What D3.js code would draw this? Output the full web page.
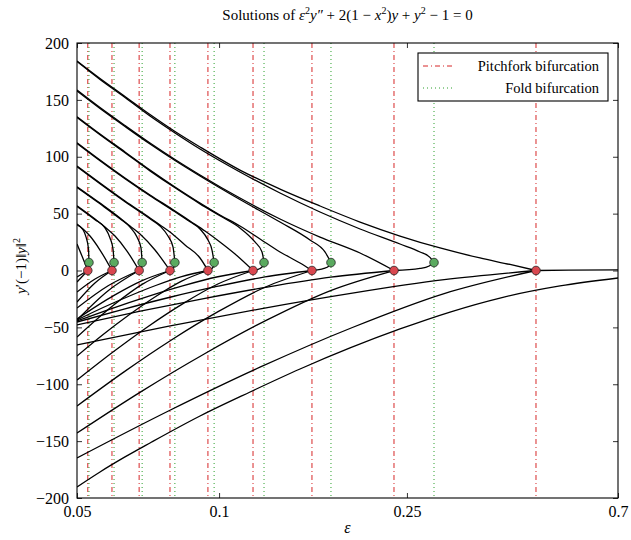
<!DOCTYPE html>
<html>
<head>
<meta charset="utf-8">
<script src="https://cdn.jsdelivr.net/npm/d3@7"></script>
<style>
body { margin: 0; background: #fff; }
svg text { font-family: "Liberation Serif", "Times New Roman", Times, serif !important; }
</style>
</head>
<body>
<div id="chart"></div>
<script>
// bifurcation points (epsilon)
var pitchforkEps = [0.4692, 0.2347, 0.1573, 0.1180, 0.0947, 0.0787, 0.0677, 0.0593, 0.0527];
var pitchforkVal = [0, 0, 0, 0, 0, 0, 0, 0, 0];
var foldEps = [0.2853, 0.1726, 0.1245, 0.0976, 0.0806, 0.0687, 0.0599, 0.0530];
var foldVal = [7, 7, 7, 7, 7, 7, 7, 7];

var xTicks = [0.05, 0.1, 0.25, 0.7];
var yTicks = [-200, -150, -100, -50, 0, 50, 100, 150, 200];

// upper branches ending at a fold point
var foldUpper = [
    [[0.05,183.7],[0.05594,167.9],[0.06319,152.1],[0.07139,135.8],[0.08065,120.9],[0.09111,106.8],[0.1107,86.6],[0.1346,68.1],[0.1636,51.4],[0.1989,36.5],[0.2417,23.3],[0.2665,16.3],[0.2797,11.5],[0.2853,7]],
    [[0.05,157.8],[0.05594,142.4],[0.06319,126.6],[0.07139,111.2],[0.08065,96.7],[0.09111,83.1],[0.1107,62.4],[0.1346,42.6],[0.1558,26.8],[0.1676,16.3],[0.1726,7]],
    [[0.05,134.5],[0.05594,119.3],[0.06319,103.5],[0.07139,87.6],[0.08065,72.7],[0.09111,58.6],[0.1004,48.1],[0.1107,37.4],[0.1191,25.1],[0.1233,16.3],[0.1245,7]],
    [[0.05,111.6],[0.05594,96.4],[0.06319,80.6],[0.07139,65.7],[0.08065,51.6],[0.08677,42.8],[0.09111,36.5],[0.09473,26.8],[0.0966,18],[0.0976,7]],
    [[0.05,91.2],[0.05594,76.2],[0.06319,60.4],[0.07139,45.5],[0.07496,39.1],[0.07794,30.3],[0.07986,20.7],[0.0806,7]],
    [[0.05,73],[0.05594,58.6],[0.06167,45.5],[0.06475,38.2],[0.067,29.4],[0.06832,19.8],[0.0687,7]],
    [[0.05,56.3],[0.05459,44.6],[0.05732,37.4],[0.05873,28.6],[0.0596,18.9],[0.0599,7]],
    [[0.05,40.2],[0.05149,35.8],[0.05224,29.6],[0.05289,18.9],[0.0530,7]]
];

// upper branches ending at a pitchfork point
var pitchUpper = [
    [[0.05,184.2],[0.05594,168.8],[0.06319,153],[0.07139,137.1],[0.08065,122.2],[0.09111,108.6],[0.1107,88.3],[0.1346,71.6],[0.1636,56.7],[0.1989,42.6],[0.2417,30.3],[0.2938,19.8],[0.3571,11],[0.4134,5.3],[0.4692,0]],
    [[0.05,158.7],[0.05594,143.3],[0.06319,127.5],[0.07139,112.1],[0.08065,97.6],[0.09111,84],[0.1107,63.7],[0.1346,45.3],[0.1636,29.4],[0.1989,15.4],[0.2347,0]],
    [[0.05,135.2],[0.05594,120],[0.06319,104.2],[0.07139,88.3],[0.08065,73.4],[0.09111,59.3],[0.1004,48.8],[0.1107,39.1],[0.1221,27.7],[0.1346,16.3],[0.1484,6.6],[0.1573,0]],
    [[0.05,112.3],[0.05594,97.1],[0.06319,81.3],[0.07139,66.4],[0.08065,52.3],[0.08677,43.5],[0.09336,34.7],[0.1004,25.1],[0.1081,14.5],[0.118,0]],
    [[0.05,91.9],[0.05594,76.9],[0.06319,61.1],[0.07139,46.2],[0.07496,40],[0.0787,33.8],[0.08468,22.4],[0.09111,11],[0.0947,0]],
    [[0.05,73.7],[0.05594,59.3],[0.06167,46.2],[0.06475,39.1],[0.06799,32.1],[0.07315,18],[0.0787,0]],
    [[0.05,57],[0.05459,45.3],[0.05732,38.2],[0.06018,30.3],[0.06381,17.1],[0.0677,0]],
    [[0.05,40.9],[0.05149,36.5],[0.05327,30.3],[0.05594,18],[0.0593,0]],
    [[0.05,23.3],[0.05123,12.7],[0.0527,0]]
];

// short arcs fold -> pitchfork
var foldArcs = [
    [[0.2347,0],[0.2665,1.8],[0.2787,4],[0.2853,7]],
    [[0.1573,0],[0.1668,1.8],[0.1709,4],[0.1726,7]],
    [[0.118,0],[0.1221,1.8],[0.1239,4],[0.1245,7]],
    [[0.0947,0],[0.0966,1.8],[0.0973,4],[0.0976,7]],
    [[0.0787,0],[0.0799,1.8],[0.0803,4],[0.0806,7]],
    [[0.0677,0],[0.0683,1.8],[0.06856,4],[0.0687,7]],
    [[0.0593,0],[0.0596,1.8],[0.0598,4],[0.0599,7]],
    [[0.0527,0],[0.05288,1.8],[0.05296,4],[0.0530,7]]
];

// branches going down-left from the pitchfork points
var lowerBranches = [
    [[0.05,-164.8],[0.0783,-123.3],[0.1224,-84.8],[0.1916,-50.1],[0.2998,-20.3],[0.4692,0]],
    [[0.05,-65.5],[0.0783,-49],[0.1224,-33.7],[0.1916,-19.9],[0.2998,-8.1],[0.4692,0]],
    [[0.05,-142.9],[0.0681,-106.9],[0.0928,-73.6],[0.1264,-43.4],[0.1723,-17.6],[0.2347,0]],
    [[0.05,-47.9],[0.0681,-35.8],[0.0928,-24.7],[0.1264,-14.6],[0.1723,-5.9],[0.2347,0]],
    [[0.05,-119.1],[0.0629,-89.1],[0.0791,-61.3],[0.0995,-36.2],[0.1251,-14.7],[0.1573,0]],
    [[0.05,-45.3],[0.0629,-33.9],[0.0791,-23.3],[0.0995,-13.8],[0.1251,-5.6],[0.1573,0]],
    [[0.05,-96.3],[0.0594,-72.1],[0.0705,-49.6],[0.0837,-29.3],[0.0994,-11.9],[0.118,0]],
    [[0.05,-44.4],[0.0594,-33.2],[0.0705,-22.9],[0.0837,-13.5],[0.0994,-5.5],[0.118,0]],
    [[0.05,-75.2],[0.0568,-56.3],[0.0646,-38.7],[0.0734,-22.8],[0.0833,-9.3],[0.0947,0]],
    [[0.05,-43.5],[0.0568,-32.5],[0.0646,-22.4],[0.0734,-13.2],[0.0833,-5.4],[0.0947,0]],
    [[0.05,-58.5],[0.0599,-30.1],[0.0687,-12.2],[0.0787,0]],
    [[0.05,-42.6],[0.0599,-21.9],[0.0687,-8.9],[0.0787,0]],
    [[0.05,-43.5],[0.0582,-17.7],[0.0677,0]],
    [[0.05,-33],[0.0582,-13.4],[0.0677,0]],
    [[0.05,-27.7],[0.0545,-11.2],[0.0593,0]],
    [[0.05,-18.9],[0.0545,-7.7],[0.0593,0]],
    [[0.05,-10.1],[0.0527,0]],
    [[0.05,-5.7],[0.0527,0]]
];

// symmetric branch to the right and the lowest separate branch
var rightBranch = [[0.4692,0],[0.55,0.3],[0.7,0.6]];
var bottomBranch = [[0.05,-190.3],[0.05594,-177.1],[0.06319,-163.9],[0.07139,-151.6],[0.09111,-127.9],[0.1163,-106.8],[0.1484,-86.6],[0.1894,-68.1],[0.2417,-51.4],[0.3085,-36.5],[0.3936,-24.2],[0.5275,-13.6],[0.7,-6.6]];

var svgWidth = 631;
var svgHeight = 540;
var margin = { top: 43, right: 13, bottom: 42, left: 77 };
var width = svgWidth - margin.left - margin.right;
var height = svgHeight - margin.top - margin.bottom;
var serif = "'Liberation Serif', 'Times New Roman', Times, serif";

var svg = d3.select("#chart").append("svg")
    .attr("width", svgWidth)
    .attr("height", svgHeight)
    .attr("font-family", serif);

var chartGroup = svg.append("g")
    .attr("transform", `translate(${margin.left}, ${margin.top})`);

var xScale = d3.scaleLog().domain([0.05, 0.7]).range([0, width]);
var yScale = d3.scaleLinear().domain([-200, 200]).range([height, 0]);

chartGroup.append("clipPath").attr("id", "clip")
    .append("rect").attr("width", width).attr("height", height);

var plot = chartGroup.append("g").attr("clip-path", "url(#clip)");

// vertical bifurcation lines
plot.selectAll(".pline").data(pitchforkEps).enter()
    .append("line")
    .attr("x1", d => xScale(d)).attr("x2", d => xScale(d))
    .attr("y1", 0).attr("y2", height)
    .attr("stroke", "#d62728").attr("stroke-width", 1)
    .attr("stroke-dasharray", "5,3,1,3");

plot.selectAll(".fline").data(foldEps).enter()
    .append("line")
    .attr("x1", d => xScale(d)).attr("x2", d => xScale(d))
    .attr("y1", 0).attr("y2", height)
    .attr("stroke", "#2ca02c").attr("stroke-width", 1)
    .attr("stroke-dasharray", "1,3");

var line = d3.line()
    .x(d => xScale(d[0]))
    .y(d => yScale(d[1]))
    .curve(d3.curveMonotoneX);

var allBranches = foldUpper.concat(pitchUpper, foldArcs, lowerBranches, [rightBranch, bottomBranch]);

plot.selectAll(".branch").data(allBranches).enter()
    .append("path")
    .attr("d", line)
    .attr("fill", "none")
    .attr("stroke", "black")
    .attr("stroke-width", 1.3);

// bifurcation markers
chartGroup.selectAll(".fdot").data(foldEps).enter()
    .append("circle")
    .attr("cx", d => xScale(d))
    .attr("cy", (d, i) => yScale(foldVal[i]))
    .attr("r", 4.3)
    .attr("fill", "#5aaa5f")
    .attr("stroke", "#222").attr("stroke-width", 0.8);

chartGroup.selectAll(".pdot").data(pitchforkEps).enter()
    .append("circle")
    .attr("cx", d => xScale(d))
    .attr("cy", (d, i) => yScale(pitchforkVal[i]))
    .attr("r", 4.3)
    .attr("fill", "#d9474f")
    .attr("stroke", "#222").attr("stroke-width", 0.8);

// axes, ticks inside on all four sides
var xAxis = d3.axisBottom(xScale).tickValues(xTicks).tickFormat(d => d).tickSize(-5).tickSizeOuter(0).tickPadding(8);
var xAxisTop = d3.axisTop(xScale).tickValues(xTicks).tickFormat("").tickSize(-5).tickSizeOuter(0);
var yAxis = d3.axisLeft(yScale).tickValues(yTicks).tickSize(-5).tickSizeOuter(0).tickPadding(8);
var yAxisRight = d3.axisRight(yScale).tickValues(yTicks).tickFormat("").tickSize(-5).tickSizeOuter(0);

chartGroup.append("g").attr("transform", `translate(0, ${height})`).call(xAxis);
chartGroup.append("g").call(xAxisTop);
chartGroup.append("g").call(yAxis);
chartGroup.append("g").attr("transform", `translate(${width}, 0)`).call(yAxisRight);

chartGroup.selectAll(".domain").remove();
chartGroup.selectAll(".tick line").attr("stroke", "#333");
chartGroup.selectAll("g").filter(function () { return this.getAttribute("font-family"); })
    .attr("font-family", serif);
chartGroup.selectAll(".tick text")
    .attr("font-size", "16px")
    .attr("fill", "black");

chartGroup.append("rect")
    .attr("width", width).attr("height", height)
    .attr("fill", "none").attr("stroke", "black").attr("stroke-width", 1.1);

// legend
var legend = chartGroup.append("g").attr("transform", "translate(341, 10)");
legend.append("rect")
    .attr("width", 190).attr("height", 48)
    .attr("fill", "white").attr("stroke", "black").attr("stroke-width", 1.1);
legend.append("line").attr("x1", 5).attr("x2", 34).attr("y1", 13).attr("y2", 13)
    .attr("stroke", "#d62728").attr("stroke-dasharray", "5,3,1,3");
legend.append("line").attr("x1", 5).attr("x2", 34).attr("y1", 35).attr("y2", 35)
    .attr("stroke", "#2ca02c").attr("stroke-dasharray", "1,3");
legend.append("text").attr("x", 181).attr("y", 18).attr("text-anchor", "end")
    .attr("font-size", "14.5px").text("Pitchfork bifurcation");
legend.append("text").attr("x", 181).attr("y", 40).attr("text-anchor", "end")
    .attr("font-size", "14.5px").text("Fold bifurcation");

// title
var title = svg.append("text")
    .attr("x", margin.left + width / 2).attr("y", 20)
    .attr("text-anchor", "middle").attr("font-size", "15px");
title.append("tspan").text("Solutions of ");
title.append("tspan").attr("font-style", "italic").text("ε");
title.append("tspan").attr("font-size", "10px").attr("dy", -6).text("2");
title.append("tspan").attr("font-style", "italic").attr("dy", 6).text("y″");
title.append("tspan").text(" + 2(1 − ");
title.append("tspan").attr("font-style", "italic").text("x");
title.append("tspan").attr("font-size", "10px").attr("dy", -6).text("2");
title.append("tspan").attr("dy", 6).text(")");
title.append("tspan").attr("font-style", "italic").text("y");
title.append("tspan").text(" + ");
title.append("tspan").attr("font-style", "italic").text("y");
title.append("tspan").attr("font-size", "10px").attr("dy", -6).text("2");
title.append("tspan").attr("dy", 6).text(" − 1 = 0");

// axis labels
svg.append("text")
    .attr("x", margin.left + width / 2).attr("y", 533)
    .attr("text-anchor", "middle").attr("font-size", "16px")
    .attr("font-style", "italic").text("ε");

var ylab = svg.append("text")
    .attr("transform", "translate(26, 266) rotate(-90)")
    .attr("text-anchor", "middle").attr("font-size", "15px");
ylab.append("tspan").attr("font-style", "italic").text("y");
ylab.append("tspan").text("′(−1)‖");
ylab.append("tspan").attr("font-style", "italic").text("y");
ylab.append("tspan").text("‖");
ylab.append("tspan").attr("font-size", "10px").attr("dy", -6).text("2");
</script>
</body>
</html>
